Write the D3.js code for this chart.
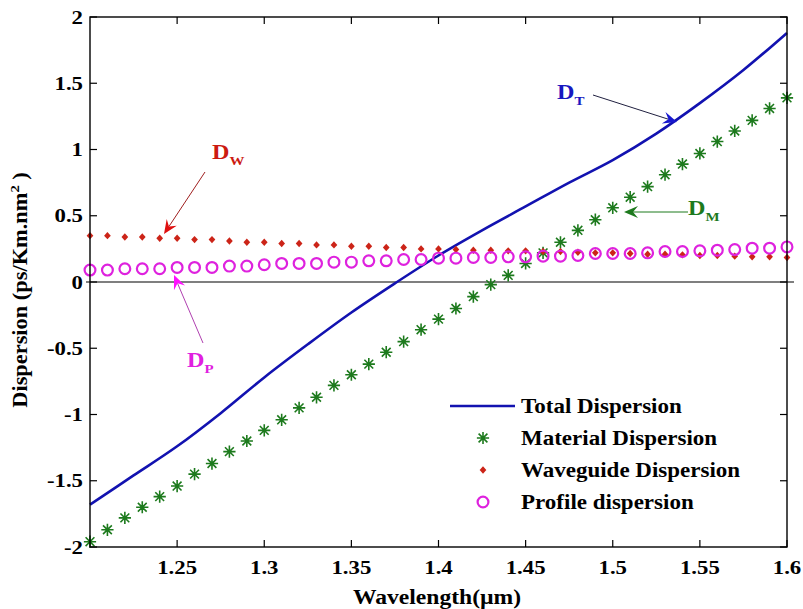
<!DOCTYPE html>
<html>
<head>
<meta charset="utf-8">
<script src="https://cdn.jsdelivr.net/npm/d3@7"></script>
<style>
  html, body { margin: 0; padding: 0; background: #fff; }
  svg { display: block; }
  text { font-family: "Liberation Serif", "Times New Roman", serif; font-weight: bold; }
</style>
</head>
<body>
<svg id="chart" width="803" height="609"></svg>
<script>
// Wavelength samples for the marker series (µm)
const wavelengths = [1.20,1.21,1.22,1.23,1.24,1.25,1.26,1.27,1.28,1.29,1.30,1.31,1.32,1.33,1.34,1.35,1.36,1.37,1.38,1.39,1.40,
                     1.41,1.42,1.43,1.44,1.45,1.46,1.47,1.48,1.49,1.50,1.51,1.52,1.53,1.54,1.55,1.56,1.57,1.58,1.59,1.60];

// Material dispersion (ps/Km.nm²)
const materialDisp = [-1.96,-1.87,-1.78,-1.70,-1.62,-1.54,-1.45,-1.37,-1.28,-1.20,-1.12,-1.04,-0.95,-0.87,-0.78,-0.70,-0.62,-0.53,-0.45,-0.36,-0.28,
                      -0.20,-0.11,-0.02,0.05,0.14,0.22,0.30,0.39,0.47,0.56,0.64,0.72,0.81,0.89,0.97,1.06,1.14,1.22,1.31,1.39];

// Waveguide dispersion
const waveguideDisp = [0.35,0.35,0.34,0.34,0.33,0.33,0.32,0.32,0.31,0.30,0.30,0.29,0.29,0.28,0.28,0.27,0.27,0.26,0.26,0.25,0.25,
                       0.245,0.24,0.24,0.235,0.235,0.23,0.23,0.225,0.22,0.22,0.215,0.21,0.21,0.205,0.20,0.20,0.195,0.19,0.19,0.185];

// Profile dispersion
const profileDisp = [0.09,0.09,0.10,0.10,0.10,0.11,0.11,0.11,0.12,0.12,0.13,0.14,0.14,0.14,0.15,0.15,0.16,0.16,0.17,0.17,0.18,
                     0.18,0.185,0.185,0.19,0.19,0.195,0.195,0.20,0.215,0.215,0.215,0.22,0.23,0.23,0.235,0.24,0.245,0.255,0.255,0.265];

// Total dispersion curve
const totalWavelengths = [1.200,1.225,1.250,1.275,1.300,1.325,1.350,1.375,1.400,1.425,1.450,1.475,1.500,1.525,1.550,1.575,1.600];
const totalDisp = [-1.68,-1.46,-1.24,-0.99,-0.72,-0.47,-0.23,-0.01,0.20,0.39,0.57,0.75,0.92,1.12,1.35,1.60,1.88];

// Axis ticks and labels
const xTicks = [1.25,1.3,1.35,1.4,1.45,1.5,1.55,1.6];
const xTickLabels = ["1.25","1.3","1.35","1.4","1.45","1.5","1.55","1.6"];
const yTicks = [-2,-1.5,-1,-0.5,0,0.5,1,1.5,2];
const yTickLabels = ["-2","-1.5","-1","-0.5","0","0.5","1","1.5","2"];

const legendLabels = ["Total Dispersion","Material Dispersion","Waveguide Dispersion","Profile dispersion"];

const colors = {
  total: "#1212b0",
  material: "#1d7a1d",
  waveguide: "#cc2418",
  profile: "#de22de"
};

const svg = d3.select("#chart");
const plot = { left: 90, right: 787, top: 17, bottom: 547 };

const x = d3.scaleLinear().domain([1.2, 1.6]).range([plot.left, plot.right]);
const y = d3.scaleLinear().domain([-2, 2]).range([plot.bottom, plot.top]);

// Text with a slight horizontal stretch (wide Times-like rendering)
function label(parent, px, py, str, size, anchor, sx) {
  return parent.append("text")
    .attr("transform", `translate(${px},${py}) scale(${sx},1)`)
    .attr("text-anchor", anchor)
    .attr("font-size", size)
    .text(str);
}

// Star marker (plus + cross), MATLAB "*" style
const starSymbol = {
  draw(ctx, size) {
    const r = Math.sqrt(size) / 2;
    const d = r * 0.72;
    ctx.moveTo(-r, 0); ctx.lineTo(r, 0);
    ctx.moveTo(0, -r); ctx.lineTo(0, r);
    ctx.moveTo(-d, -d); ctx.lineTo(d, d);
    ctx.moveTo(-d, d); ctx.lineTo(d, -d);
  }
};
// Compact diamond marker
const diamondSymbol = {
  draw(ctx, size) {
    const r = Math.sqrt(size) / 2;
    ctx.moveTo(0, -r * 1.05); ctx.lineTo(r * 0.95, 0);
    ctx.lineTo(0, r * 1.05); ctx.lineTo(-r * 0.95, 0); ctx.closePath();
  }
};

const tickLen = 7;

// Ticks (inward, on all four sides)
const gTicks = svg.append("g").attr("stroke", "#000").attr("stroke-width", 1.2);
xTicks.forEach(t => {
  gTicks.append("line").attr("x1", x(t)).attr("x2", x(t)).attr("y1", plot.bottom).attr("y2", plot.bottom - tickLen);
  gTicks.append("line").attr("x1", x(t)).attr("x2", x(t)).attr("y1", plot.top).attr("y2", plot.top + tickLen);
});
yTicks.forEach(t => {
  gTicks.append("line").attr("x1", plot.left).attr("x2", plot.left + tickLen).attr("y1", y(t)).attr("y2", y(t));
  gTicks.append("line").attr("x1", plot.right).attr("x2", plot.right - tickLen).attr("y1", y(t)).attr("y2", y(t));
});

// Zero reference line
svg.append("line")
  .attr("x1", x(1.2) - 4).attr("x2", x(1.6) + 7)
  .attr("y1", y(0)).attr("y2", y(0))
  .attr("stroke", "#000").attr("stroke-width", 1.2);

// Tick labels
const gxl = svg.append("g");
xTicks.forEach((t, i) => label(gxl, x(t), plot.bottom + 27, xTickLabels[i], 19, "middle", 1.2));
const gyl = svg.append("g");
yTicks.forEach((t, i) => label(gyl, plot.left - 7, y(t) + 6.5, yTickLabels[i], 19, "end", 1.2));

// Axis titles
label(svg, 437, 604, "Wavelength(µm)", 20, "middle", 1.18);

const yTitle = svg.append("text")
  .attr("transform", "translate(27,290) rotate(-90) scale(1.12,1)")
  .attr("text-anchor", "middle").attr("font-size", 20);
yTitle.append("tspan").text("Dispersion (ps/Km.nm");
yTitle.append("tspan").attr("font-size", 13).attr("dy", -8).text("2");
yTitle.append("tspan").attr("dy", 8).text(" )");

// Total dispersion line
const line = d3.line()
  .x((d, i) => x(totalWavelengths[i]))
  .y(d => y(d))
  .curve(d3.curveCatmullRom.alpha(0.5));
svg.append("path")
  .datum(totalDisp)
  .attr("d", line)
  .attr("fill", "none")
  .attr("stroke", colors.total)
  .attr("stroke-width", 2.6);

// Material dispersion (stars)
const star = d3.symbol().type(starSymbol).size(150);
svg.append("g").selectAll("path").data(materialDisp).join("path")
  .attr("transform", (d, i) => `translate(${x(wavelengths[i])},${y(d)})`)
  .attr("d", star)
  .attr("fill", "none")
  .attr("stroke", colors.material)
  .attr("stroke-width", 1.6);

// Waveguide dispersion (diamonds)
const diamond = d3.symbol().type(diamondSymbol).size(50);
svg.append("g").selectAll("path").data(waveguideDisp).join("path")
  .attr("transform", (d, i) => `translate(${x(wavelengths[i])},${y(d)})`)
  .attr("d", diamond)
  .attr("fill", colors.waveguide);

// Profile dispersion (open circles)
svg.append("g").selectAll("circle").data(profileDisp).join("circle")
  .attr("cx", (d, i) => x(wavelengths[i]))
  .attr("cy", d => y(d))
  .attr("r", 5.4)
  .attr("fill", "none")
  .attr("stroke", colors.profile)
  .attr("stroke-width", 2.2);

// Plot frame
svg.append("rect")
  .attr("x", plot.left).attr("y", plot.top)
  .attr("width", plot.right - plot.left).attr("height", plot.bottom - plot.top)
  .attr("fill", "none").attr("stroke", "#000").attr("stroke-width", 1.4);

// Legend
const legend = svg.append("g");
const legendY = [406, 438, 470, 502];
const legendMarkX = 483, legendTextX = 521;
legend.append("line")
  .attr("x1", 450).attr("x2", 515).attr("y1", legendY[0]).attr("y2", legendY[0])
  .attr("stroke", colors.total).attr("stroke-width", 2.6);
legend.append("path")
  .attr("transform", `translate(${legendMarkX},${legendY[1]})`)
  .attr("d", star).attr("fill", "none").attr("stroke", colors.material).attr("stroke-width", 1.6);
legend.append("path")
  .attr("transform", `translate(${legendMarkX},${legendY[2]})`)
  .attr("d", diamond).attr("fill", colors.waveguide);
legend.append("circle")
  .attr("cx", legendMarkX).attr("cy", legendY[3]).attr("r", 5.4)
  .attr("fill", "none").attr("stroke", colors.profile).attr("stroke-width", 2.2);
legendLabels.forEach((s, i) => label(legend, legendTextX, legendY[i] + 7, s, 20, "start", 1.15));

// Annotation arrows with labels
function arrow(x1, y1, x2, y2, shaftColor, headColor) {
  const g = svg.append("g");
  const ang = Math.atan2(y2 - y1, x2 - x1);
  const L = 14, W = 6, back = 9;
  const bx = x2 - Math.cos(ang) * back, by = y2 - Math.sin(ang) * back;
  g.append("line")
    .attr("x1", x1).attr("y1", y1).attr("x2", bx).attr("y2", by)
    .attr("stroke", shaftColor).attr("stroke-width", 1);
  const px = -Math.sin(ang), py = Math.cos(ang);
  const lx = x2 - Math.cos(ang) * L, ly = y2 - Math.sin(ang) * L;
  g.append("path")
    .attr("d", `M${x2},${y2} L${lx + px * W},${ly + py * W} L${bx},${by} L${lx - px * W},${ly - py * W} Z`)
    .attr("fill", headColor);
}
function dlabel(xp, yp, sub, color) {
  const t = svg.append("text")
    .attr("transform", `translate(${xp},${yp}) scale(1.15,1)`)
    .attr("fill", color).attr("font-size", 21);
  t.append("tspan").text("D");
  t.append("tspan").attr("font-size", 13).attr("dy", 6).text(sub);
}

arrow(205, 172, 164, 234, "#a02020", "#e01010");
dlabel(212, 159, "W", "#cc1a10");

arrow(203, 343, 174, 275, "#b040b0", "#ff10ff");
dlabel(187, 367, "P", "#e020e0");

arrow(593, 95, 677, 122, "#202040", "#1818d0");
dlabel(557, 99, "T", "#1818c0");

arrow(688, 212, 624, 212, "#1d7a1d", "#1d7a1d");
dlabel(688, 215, "M", "#1d7a1d");
</script>
</body>
</html>
